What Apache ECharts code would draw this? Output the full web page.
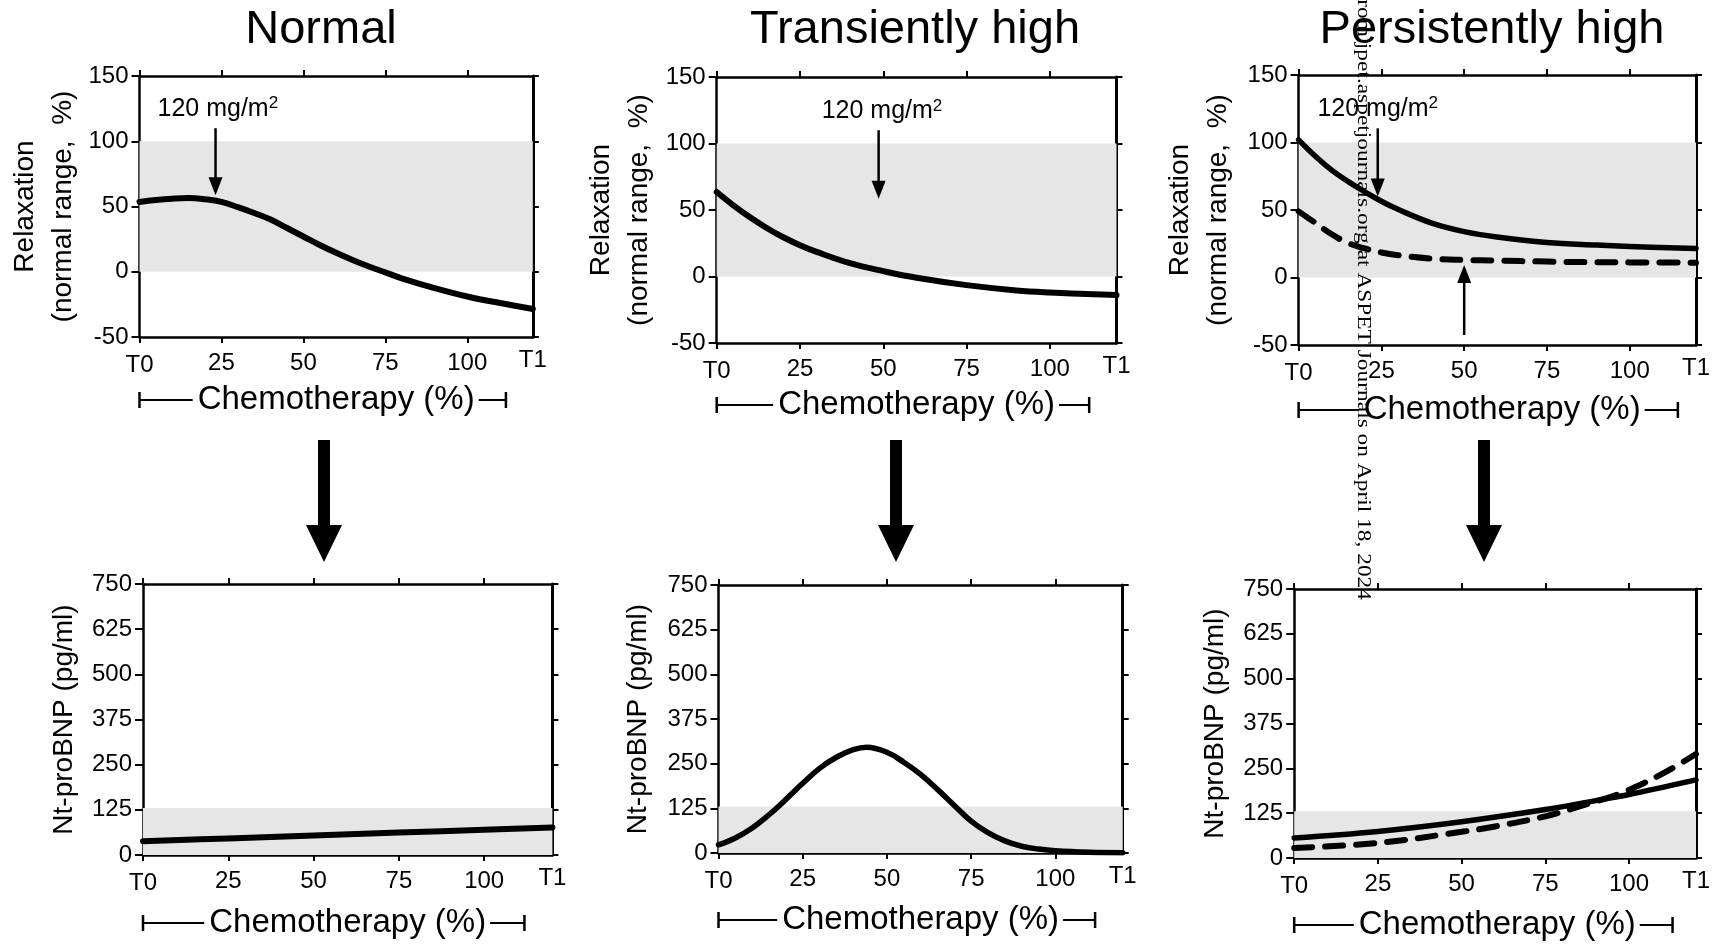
<!DOCTYPE html>
<html><head><meta charset="utf-8">
<script src="https://cdn.jsdelivr.net/npm/echarts@6/dist/echarts.min.js"></script>
<style>html,body{margin:0;padding:0;background:#fff}#c{width:1713px;height:945px}</style>
</head><body><div id="c"></div>
<script>
// ---------- text ----------
const titles = ['Normal', 'Transiently high', 'Persistently high'];
const relaxName = 'Relaxation\n(normal range,  %)';
const bnpName = 'Nt-proBNP (pg/ml)';
const chemoLabel = 'Chemotherapy (%)';
const doseText = '120 mg/m';
const doseSup = '2';
const watermark = 'Downloaded from jpet.aspetjournals.org at ASPET Journals on April 18, 2024';

// ---------- axes ----------
const xTickValues = [0, 25, 50, 75, 100];
const xLabelValues = [0, 25, 50, 75, 100, 120];
const xLabelText = ['T0', '25', '50', '75', '100', 'T1'];
const xMin = 0, xMax = 120;
const chemoEnd = 111.8;
const relaxMin = -50, relaxMax = 150, relaxStep = 50;
const bnpMin = 0, bnpMax = 750, bnpStep = 125;

// ---------- normal ranges ----------
const relaxNormal = [0, 100];
const bnpNormal = [0, 130];

// ---------- relaxation curves ----------
const xNormRelax = [0, 5, 10, 15, 20, 25, 30, 35, 40, 45, 50, 55, 60, 65, 70, 75, 80, 90, 100, 110, 120];
const yNormRelax = [53.5, 55, 56, 56.5, 55.5, 53.5, 49.5, 45, 40, 33.5, 27, 20.5, 14.5, 9, 4, -0.5, -5, -12.5, -19, -24, -28.5];

const xTransRelax = [0, 5, 10, 15, 20, 25, 30, 40, 50, 60, 75, 90, 100, 120];
const yTransRelax = [63.5, 53.5, 44.5, 36.5, 29.5, 23.5, 18.5, 10, 4, -1, -6.5, -10.5, -12, -14];

const xPersRelax = [0, 5, 10, 15, 20, 25, 30, 40, 50, 60, 75, 90, 100, 120];
const yPersRelaxSolid = [102, 90, 79.5, 71, 63.5, 56.5, 50.5, 40.5, 34, 30, 26, 24, 23, 21.5];
const yPersRelaxDash = [49, 40.5, 32, 25.5, 21.5, 18.5, 16.5, 14, 13, 12.5, 11.8, 11.3, 11.2, 11];

// ---------- NT-proBNP curves ----------
const xNormBnp = [0, 25, 50, 75, 100, 120];
const yNormBnp = [38, 46, 54, 62, 70, 76];

const xTransBnp = [0, 5, 10, 15, 20, 25, 30, 35, 40, 44, 50, 55, 60, 65, 70, 75, 80, 85, 90, 95, 100, 110, 120];
const yTransBnp = [23, 42, 70, 107, 150, 195, 237, 268, 289, 296, 282, 254, 220, 178, 133, 89, 57, 34, 19, 11, 6, 2, 1];

const xPersBnpSolid = [0, 25, 50, 75, 90, 100, 110, 120];
const yPersBnpSolid = [56, 74, 101, 135, 160, 177, 197, 218];
const xPersBnpDash = [0, 25, 50, 60, 75, 85, 95, 100, 110, 120];
const yPersBnpDash = [28, 42, 73, 88, 116, 143, 172, 190, 235, 290];

// ---------- annotations (data units: x, yStart, yTip) ----------
const doseLabelPos = [[23.9, 125], [49.6, 124], [23.9, 125]];
const doseArrows = [[[23.2, 110, 58.6]], [[48.6, 110, 58.5]], [[23.9, 110.5, 60], [50, -42.6, 9.3]]];

// ---------- layout (pixels) ----------
const FONT = '"Liberation Sans", Arial, sans-serif';
const panels = [
  {l: 139.5, t: 76, r: 532.8, b: 337, chemoY: 400, nameGap: 57},
  {l: 716.7, t: 77, r: 1116.5, b: 343, chemoY: 405, nameGap: 58},
  {l: 1298.6, t: 75, r: 1705.7, b: 345, chemoY: 410, nameGap: 61},
  {l: 143, t: 584, r: 552.4, b: 855, chemoY: 923, nameGap: 62},
  {l: 718.5, t: 585, r: 1122.7, b: 853, chemoY: 920, nameGap: 63},
  {l: 1294.2, t: 589, r: 1700.3, b: 858, chemoY: 925, nameGap: 62}
];
const titlePos = [321, 915, 1492];
const bigArrowX = [324, 896, 1484];

const zip = (xs, ys) => xs.map((x, i) => [x, ys[i]]);

const grids = [], xAxes = [], yAxes = [], series = [];
const TICKF = 24;

panels.forEach((p, i) => {
  const isTop = i < 3;
  grids.push({left: p.l, top: p.t, width: p.r - p.l, height: p.b - p.t, containLabel: false});
  const axLine = {show: true, onZero: false, lineStyle: {color: '#000', width: 2.5}};
  xAxes.push({
    type: 'value', gridIndex: i, min: xMin, max: xMax, position: 'bottom',
    axisLine: axLine,
    axisTick: {show: true, inside: false, length: 6, customValues: xTickValues, lineStyle: {color: '#000', width: 2}},
    axisLabel: {
      show: true, customValues: xLabelValues, color: '#000', fontSize: TICKF, fontFamily: FONT, margin: 11,
      formatter: v => {
        const idx = xLabelValues.indexOf(v);
        const t = idx >= 0 ? xLabelText[idx] : String(v);
        if (v === xMin) return '{lo|' + t + '}';
        if (v === xMax) return '{hi|' + t + '}';
        return '{n|' + t + '}';
      },
      rich: {
        lo: {fontSize: TICKF, fontFamily: FONT, color: '#000', padding: [5, 0, 0, 0]},
        n: {fontSize: TICKF, fontFamily: FONT, color: '#000', padding: [3, 0, 0, 0]},
        hi: {fontSize: TICKF, fontFamily: FONT, color: '#000', padding: [0, 0, 0, 0]}
      }
    },
    splitLine: {show: false}
  });
  xAxes.push({
    type: 'value', gridIndex: i, min: xMin, max: xMax, position: 'top',
    axisLine: axLine,
    axisTick: {show: true, inside: false, length: 6, customValues: xTickValues, lineStyle: {color: '#000', width: 2}},
    axisLabel: {show: false}, splitLine: {show: false}
  });
  const yMin = isTop ? relaxMin : bnpMin, yMax = isTop ? relaxMax : bnpMax, yStep = isTop ? relaxStep : bnpStep;
  yAxes.push({
    type: 'value', gridIndex: i, min: yMin, max: yMax, interval: yStep, position: 'left',
    axisLine: axLine,
    axisTick: {show: true, inside: false, length: 8, lineStyle: {color: '#000', width: 2}},
    axisLabel: {show: true, color: '#000', fontSize: TICKF, fontFamily: FONT, margin: 11},
    splitLine: {show: false},
    name: isTop ? relaxName : bnpName, nameLocation: 'middle', nameGap: p.nameGap,
    nameTextStyle: {color: '#000', fontSize: 28, fontFamily: FONT, lineHeight: isTop ? 38 : 34}
  });
  yAxes.push({
    type: 'value', gridIndex: i, min: yMin, max: yMax, interval: yStep, position: 'right',
    axisLine: {show: true, onZero: false, lineStyle: {color: '#000', width: 3}},
    axisTick: {show: true, inside: false, length: 6, lineStyle: {color: '#000', width: 2}},
    axisLabel: {show: false}, splitLine: {show: false}
  });
  const rng = isTop ? relaxNormal : bnpNormal;
  series.push({
    type: 'custom', xAxisIndex: 2 * i, yAxisIndex: 2 * i, z: 1, silent: true,
    data: [[xMin, rng[0], xMax, rng[1]]],
    renderItem: (params, api) => {
      const a = api.coord([api.value(0), api.value(3)]);
      const b = api.coord([api.value(2), api.value(1)]);
      return {type: 'rect', shape: {x: a[0], y: a[1], width: b[0] - a[0], height: b[1] - a[1]}, style: {fill: '#e6e6e6'}};
    }
  });
});

function curve(i, data, width, dashed) {
  series.push({
    type: 'line', xAxisIndex: 2 * i, yAxisIndex: 2 * i, z: 3, data: data, smooth: 0.4,
    showSymbol: false, symbol: 'none', silent: true,
    lineStyle: {color: '#000', width: width, cap: 'round', join: 'round', type: dashed ? [18, 13] : 'solid'}
  });
}
curve(0, zip(xNormRelax, yNormRelax), 6);
curve(1, zip(xTransRelax, yTransRelax), 6);
curve(2, zip(xPersRelax, yPersRelaxSolid), 5.5);
curve(2, zip(xPersRelax, yPersRelaxDash), 6, true);
curve(3, zip(xNormBnp, yNormBnp), 6);
curve(4, zip(xTransBnp, yTransBnp), 5.5);
curve(5, zip(xPersBnpSolid, yPersBnpSolid), 5.5);
curve(5, zip(xPersBnpDash, yPersBnpDash), 6, true);

// annotation arrows + dose labels in top panels
for (let i = 0; i < 3; i++) {
  series.push({
    type: 'custom', xAxisIndex: 2 * i, yAxisIndex: 2 * i, z: 4, silent: true,
    data: doseArrows[i],
    renderItem: (params, api) => {
      const x = api.value(0);
      const a = api.coord([x, api.value(1)]), b = api.coord([x, api.value(2)]);
      const dir = Math.sign(b[1] - a[1]);
      const headLen = 18, headW = 14;
      const base = b[1] - dir * headLen;
      return {type: 'group', children: [
        {type: 'line', shape: {x1: a[0], y1: a[1], x2: b[0], y2: base + dir * 2}, style: {stroke: '#000', lineWidth: 2.5}},
        {type: 'polygon', shape: {points: [[b[0], b[1]], [b[0] - headW / 2, base], [b[0] + headW / 2, base]]}, style: {fill: '#000'}}
      ]};
    }
  });
  series.push({
    type: 'custom', xAxisIndex: 2 * i, yAxisIndex: 2 * i, z: 5, silent: true,
    data: [doseLabelPos[i]],
    renderItem: (params, api) => {
      const c = api.coord([api.value(0), api.value(1)]);
      return {type: 'text', x: c[0], y: c[1], style: {
        text: '{a|' + doseText + '}{b|' + doseSup + '}',
        fill: '#000', align: 'center', verticalAlign: 'middle',
        rich: {
          a: {fontSize: 25, fontFamily: FONT, fill: '#000', lineHeight: 27},
          b: {fontSize: 17, fontFamily: FONT, fill: '#000', lineHeight: 17, verticalAlign: 'top'}
        }
      }};
    }
  });
}

// ---------- graphics ----------
const graphics = [];
titles.forEach((t, i) => {
  graphics.push({type: 'text', x: titlePos[i], y: 30, z: 10,
    style: {text: t, font: '47px ' + FONT, fill: '#000', textAlign: 'center', textVerticalAlign: 'middle', align: 'center', verticalAlign: 'middle'}});
});
bigArrowX.forEach(x => {
  graphics.push({type: 'polygon', z: 10, shape: {points: [[x - 6, 440], [x + 6, 440], [x + 6, 525], [x + 18, 525], [x, 562], [x - 18, 525], [x - 6, 525]]}, style: {fill: '#000'}});
});
const CHEMOF = 33;
const mctx = document.createElement('canvas').getContext('2d');
mctx.font = CHEMOF + 'px "Liberation Sans"';
const chemoW = mctx.measureText(chemoLabel).width;
panels.forEach(p => {
  const cx = (p.l + p.r) / 2, y = p.chemoY;
  const x0 = p.l, x1 = p.l + (chemoEnd - xMin) / (xMax - xMin) * (p.r - p.l);
  graphics.push({type: 'text', x: cx, y: y, z: 10,
    style: {text: chemoLabel, font: CHEMOF + 'px ' + FONT, fill: '#000', textAlign: 'center', textVerticalAlign: 'middle', align: 'center', verticalAlign: 'middle'}});
  const ls = {stroke: '#000', lineWidth: 2};
  graphics.push({type: 'line', z: 10, shape: {x1: x0, y1: y, x2: cx - chemoW / 2 - 5, y2: y}, style: ls});
  graphics.push({type: 'line', z: 10, shape: {x1: cx + chemoW / 2 + 4, y1: y, x2: x1, y2: y}, style: ls});
  graphics.push({type: 'line', z: 10, shape: {x1: x0, y1: y - 8, x2: x0, y2: y + 8}, style: {stroke: '#000', lineWidth: 2.5}});
  graphics.push({type: 'line', z: 10, shape: {x1: x1, y1: y - 8, x2: x1, y2: y + 8}, style: {stroke: '#000', lineWidth: 2.5}});
});
graphics.push({type: 'text', x: 1363, y: 600, rotation: -Math.PI / 2, scaleX: 1.2, scaleY: 1, z: 100,
  style: {text: watermark, font: '19.5px "Liberation Serif", "Times New Roman", serif', fill: '#000',
    textAlign: 'right', textVerticalAlign: 'middle', align: 'right', verticalAlign: 'middle'}});

const chart = echarts.init(document.getElementById('c'), null, {renderer: 'canvas'});
chart.setOption({
  animation: false,
  backgroundColor: '#fff',
  grid: grids, xAxis: xAxes, yAxis: yAxes, series: series,
  graphic: {elements: graphics}
});
</script>
</body></html>
